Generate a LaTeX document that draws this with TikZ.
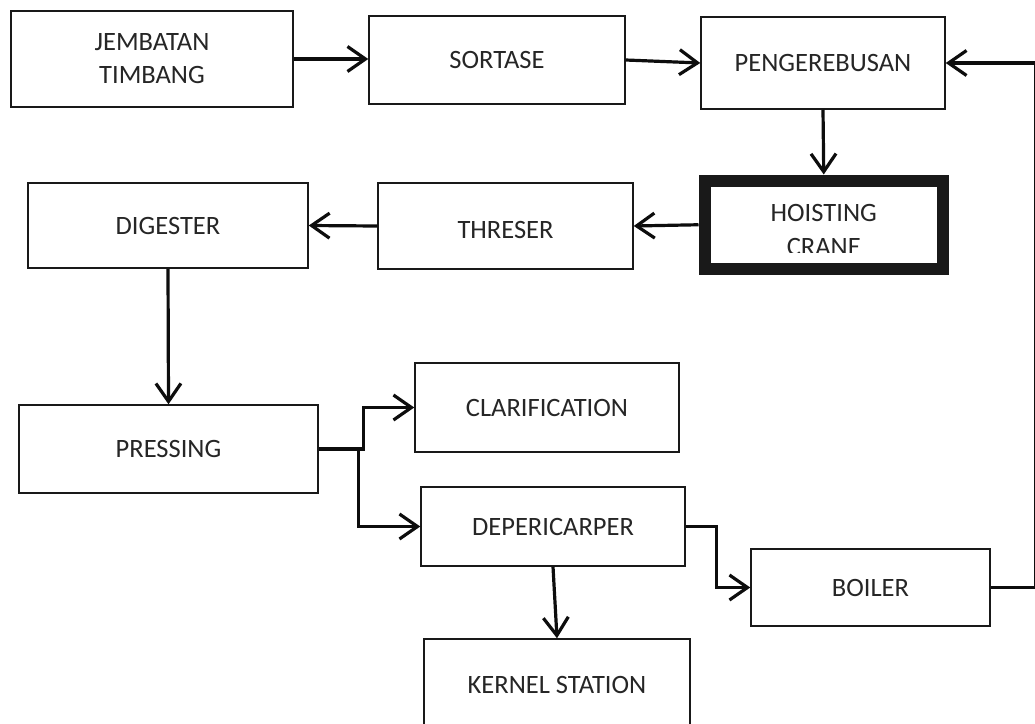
\documentclass[tikz,border=0pt]{standalone}
\usepackage{fontspec}
\setmainfont{Carlito}
\usetikzlibrary{arrows.meta}
\begin{document}
\begin{tikzpicture}[x=1pt,y=-1pt,
  box/.style={draw=black!90, line width=1.5pt, inner sep=0pt, text=black!85,
    font=\fontsize{26.5}{33}\selectfont, align=center},
  conn/.style={line width=3.2pt, draw=black!95,
    -{Straight Barb[length=18pt,width=25pt,line width=3.2pt]}}]
\useasboundingbox (0,0) rectangle (1035,723);
\fill[white] (0,0) rectangle (1035,723);

\node[box, minimum width=282pt, minimum height=96pt] (jt) at (152,59) {JEMBATAN\\TIMBANG};
\node[box, minimum width=256pt, minimum height=88pt] (sort) at (497,60) {SORTASE};
\node[box, minimum width=244pt, minimum height=92pt] (peng) at (823,63) {PENGEREBUSAN};
\node[box, line width=12pt, outer sep=6pt, minimum width=238.5pt, minimum height=88.5pt] (hoist) at (823.75,224.75) {};
\begin{scope}
  \clip (711,187) rectangle (937,252);
  \node[text=black!85, font=\fontsize{26.5}{33.5}\selectfont, align=center, inner sep=0pt] (hoisttext) at (823.75,230) {HOISTING\\CRANE};
\end{scope}
\node[box, minimum width=255pt, minimum height=86pt] (thr) at (505.5,226) {\raisebox{-4pt}[17pt][0pt]{THRESER}};
\node[box, minimum width=280pt, minimum height=85pt] (dig) at (168,225.5) {DIGESTER};
\node[box, minimum width=299pt, minimum height=88pt] (press) at (168.5,449) {PRESSING};
\node[box, minimum width=264pt, minimum height=89pt] (clar) at (547,407.5) {CLARIFICATION};
\node[box, minimum width=264pt, minimum height=79pt] (dep) at (553,526.5) {DEPERICARPER};
\node[box, minimum width=239pt, minimum height=77pt] (boil) at (870.5,587.5) {BOILER};
\node[box, minimum width=266pt, minimum height=92pt] (kern) at (557,685) {KERNEL STATION};

\coordinate (rt) at (1035.4,0);

\draw[conn] (jt.east) -- (jt.east -| sort.west);
\draw[conn] (sort.east) -- (peng.west);
\draw[conn] (peng.south) -- (hoist.north);
\draw[conn] (hoist.west) -- (thr.east);
\draw[conn] (thr.west) -- (dig.east);
\draw[conn] (dig.south) -- (press.north);
\draw[conn] (press.east) -- ++(45,0) |- (clar.west);
\draw[conn] (press.east) ++(40,0) |- (dep.west);
\draw[conn] (dep.east) -- ++(31,0) |- (boil.west);
\draw[conn] (dep.south) -- (kern.north);
\draw[conn] (boil.east) -- (boil.east -| rt) -- (rt |- peng.east) -- (peng.east);
\end{tikzpicture}
\end{document}
